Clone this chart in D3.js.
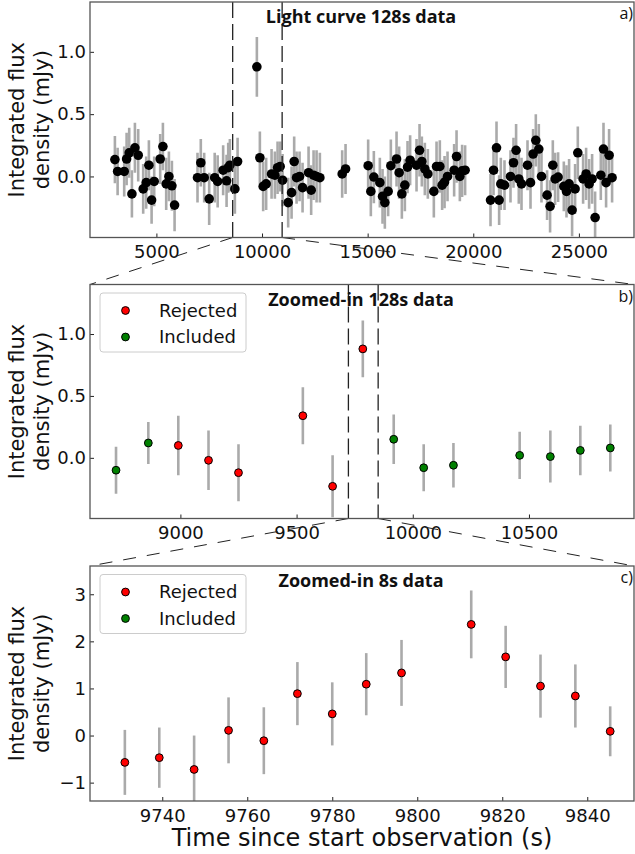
<!DOCTYPE html>
<html><head><meta charset="utf-8">
<script src="https://cdn.jsdelivr.net/npm/d3@7"></script>
<style>body{margin:0;background:#fff}svg{display:block}</style>
</head><body><svg id="chart" width="635" height="854"></svg>
<script>
// ---------- DATA ----------
const aTime = [3036,3164,3476,3590,3713,3841,3983,4139,4375,4517,4645,4773,4896,5180,5308,5464,5592,5734,5861,
 6946,7102,7262,7499,7760,7900,8160,8322,8400,8478,8715,8843,
 9756,9898,10054,10196,10452,10608,10736,10859,10973,11238,11399,11522,11635,11777,11919,12203,12326,12440,12582,12738,13794,13954,
 15024,15151,15293,15577,15705,15814,15970,16098,16368,16491,16619,16761,16888,17011,17314,17456,17565,17707,17849,18133,18261,18417,18526,18640,18781,19094,19208,19364,19472,19614,
 20816,20958,21100,21224,21303,21478,21762,21904,22027,22155,22283,22567,22709,22832,22960,23102,23229,23494,23636,23765,23874,24016,24286,24413,24536,24678,24820,24948,25199,25341,25483,25625,25767,26037,26164,26287,26429,26571];
const aFlux = [0.135,0.04,0.04,0.14,0.19,-0.14,0.23,0.17,-0.10,-0.05,0.09,-0.19,-0.04,0.14,0.24,-0.06,0.00,-0.075,-0.23,
 -0.01,0.11,-0.01,-0.18,-0.01,-0.04,0.05,-0.035,0.07,0.09,-0.10,0.12,
 0.88,0.15,-0.08,-0.06,0.02,0.01,0.07,0.08,-0.03,-0.21,-0.13,0.12,-0.01,0.00,-0.09,0.03,-0.11,0.01,0.00,-0.01,0.02,0.06,
 0.086,-0.12,-0.005,-0.05,-0.16,-0.21,-0.12,0.086,0.14,0.03,-0.14,-0.07,0.075,0.13,0.09,0.21,0.12,0.06,0.02,-0.12,0.08,0.08,-0.07,-0.045,0.0,0.05,0.16,0.0,0.045,0.05,
 -0.19,0.05,0.23,-0.19,-0.06,-0.07,0.0,0.11,0.21,-0.02,-0.06,0.09,-0.05,0.18,0.29,0.22,0.0,-0.15,-0.24,0.09,-0.02,-0.005,-0.08,-0.12,-0.06,-0.27,-0.10,0.19,-0.02,0.02,-0.06,-0.02,-0.33,0.01,0.22,-0.05,0.17,-0.01];
const aErr = [0.19,0.19,0.20,0.21,0.20,0.19,0.20,0.21,0.20,0.21,0.20,0.19,0.20,0.20,0.19,0.21,0.20,0.20,0.21,
 0.20,0.19,0.20,0.21,0.20,0.21,0.20,0.21,0.20,0.21,0.20,0.19,
 0.24,0.21,0.20,0.21,0.20,0.19,0.21,0.20,0.21,0.20,0.21,0.20,0.21,0.20,0.20,0.21,0.20,0.20,0.21,0.20,0.19,0.20,
 0.21,0.20,0.21,0.20,0.22,0.21,0.20,0.21,0.22,0.21,0.20,0.21,0.21,0.20,0.21,0.21,0.20,0.21,0.20,0.21,0.20,0.21,0.20,0.21,0.20,0.21,0.21,0.20,0.21,0.20,
 0.21,0.20,0.21,0.20,0.21,0.20,0.21,0.20,0.21,0.20,0.21,0.20,0.21,0.20,0.21,0.20,0.21,0.20,0.21,0.20,0.21,0.20,0.20,0.21,0.20,0.21,0.20,0.21,0.20,0.21,0.20,0.20,0.21,0.20,0.21,0.20,0.21,0.20];

const bTime   = [8723,8862,8991,9121,9250,9527,9655,9785,9918,10047,10175,10460,10592,10721,10850];
const bFlux   = [-0.10,0.12,0.10,-0.02,-0.12,0.34,-0.23,0.88,0.15,-0.08,-0.06,0.02,0.01,0.06,0.08];
const bErr    = [0.19,0.17,0.24,0.24,0.23,0.23,0.25,0.23,0.20,0.19,0.18,0.19,0.21,0.20,0.19];
const bStatus = ["Included","Included","Rejected","Rejected","Rejected","Rejected","Rejected","Rejected","Included","Included","Included","Included","Included","Included","Included"];

const cTime   = [9731.2,9739.3,9747.5,9755.6,9763.9,9771.8,9780.0,9788.0,9796.3,9812.7,9820.8,9829.0,9837.2,9845.4];
const cFlux   = [-0.57,-0.47,-0.72,0.11,-0.11,0.89,0.46,1.09,1.33,2.36,1.67,1.05,0.84,0.09];
const cErr    = [0.69,0.64,0.72,0.70,0.71,0.67,0.67,0.66,0.70,0.72,0.66,0.67,0.67,0.53];
const cStatus = cTime.map(() => "Rejected");

const aXTicks = [5000,10000,15000,20000,25000];
const bXTicks = [9000,9500,10000,10500];
const cXTicks = [9740,9760,9780,9800,9820,9840];
const abYTicks = [0.0,0.5,1.0];
const cYTicks = [-1,0,1,2,3];

const aXLim = [1857, 27608];
const bXLim = [8611, 10952];   // zoom window of panel b (dashed in a)
const cXLim = [9723, 9851];    // zoom window of panel c (dashed in b)
const abYLim = [-0.49, 1.40];
const cYLim = [-1.39, 3.60];

const legendLabels = ["Rejected","Included"];
const titles = ["Light curve 128s data","Zoomed-in 128s data","Zoomed-in 8s data"];
const panelTags = ["a)","b)","c)"];

// ---------- LAYOUT ----------
const L = 90, R = 634;
const panels = [
  {top:2,   bottom:237.5},
  {top:284.5, bottom:518.5},
  {top:566, bottom:801}
];
const colors = {Rejected:"#ff0000", Included:"#008000"};
const errColor = "#aaaaaa";
const svg = d3.select("#chart");
const tickFont = "DejaVu Sans, sans-serif";

const xs = [
  d3.scaleLinear().domain(aXLim).range([L,R]),
  d3.scaleLinear().domain(bXLim).range([L,R]),
  d3.scaleLinear().domain(cXLim).range([L,R])
];
const ys = [
  d3.scaleLinear().domain(abYLim).range([panels[0].bottom, panels[0].top]),
  d3.scaleLinear().domain(abYLim).range([panels[1].bottom, panels[1].top]),
  d3.scaleLinear().domain(cYLim).range([panels[2].bottom, panels[2].top])
];
const xTicks = [aXTicks,bXTicks,cXTicks];
const yTicks = [abYTicks,abYTicks,cYTicks];
const yFmt = [d3.format(".1f"), d3.format(".1f"), d3.format("d")];

// clip paths
const defs = svg.append("defs");
panels.forEach((p,i) => {
  defs.append("clipPath").attr("id","clip"+i).append("rect")
    .attr("x",L).attr("y",p.top).attr("width",R-L).attr("height",p.bottom-p.top);
});

panels.forEach((p,i) => {
  const x = xs[i], y = ys[i];
  const g = svg.append("g");
  const ax = g.append("g").attr("transform",`translate(0,${p.bottom})`)
    .call(d3.axisBottom(x).tickValues(xTicks[i]).tickFormat(d3.format("d")).tickSizeInner(-4).tickSizeOuter(0).tickPadding(8));
  const ay = g.append("g").attr("transform",`translate(${L},0)`)
    .call(d3.axisLeft(y).tickValues(yTicks[i]).tickFormat(yFmt[i]).tickSizeInner(-4).tickSizeOuter(0).tickPadding(4));
  [ax,ay].forEach(a => {
    a.select(".domain").remove();
    a.selectAll(".tick line").attr("stroke","#222").attr("stroke-width",1);
    a.selectAll(".tick text").attr("font-family",tickFont).attr("font-size",18).attr("fill","#111");
  });
  const cy = (p.top+p.bottom)/2;
  const yl = g.append("text").attr("transform",`translate(24,${cy}) rotate(-90)`)
    .attr("text-anchor","middle").attr("font-family",tickFont).attr("font-size",21).attr("fill","#111");
  yl.append("tspan").attr("x",0).attr("y",0).text("Integrated flux");
  yl.append("tspan").attr("x",0).attr("y",25).text("density (mJy)");
});

// ---------- PANEL A ----------
(function(){
  const x = xs[0], y = ys[0];
  const d = aTime.map((t,k) => ({t, f:aFlux[k], e:aErr[k]}));
  const g = svg.append("g").attr("clip-path","url(#clip0)");
  g.selectAll("line.err").data(d).join("line").attr("class","err")
    .attr("x1",q=>x(q.t)).attr("x2",q=>x(q.t))
    .attr("y1",q=>y(q.f-q.e)).attr("y2",q=>y(q.f+q.e))
    .attr("stroke",errColor).attr("stroke-width",2.6);
  g.selectAll("circle").data(d).join("circle")
    .attr("cx",q=>x(q.t)).attr("cy",q=>y(q.f)).attr("r",4.8).attr("fill","#000");
})();

// ---------- PANELS B, C ----------
function colored(i, T, F, E, S){
  const x = xs[i], y = ys[i];
  const d = T.map((t,k) => ({t, f:F[k], e:E[k], s:S[k]}));
  const g = svg.append("g").attr("clip-path",`url(#clip${i})`);
  g.selectAll("line.err").data(d).join("line").attr("class","err")
    .attr("x1",q=>x(q.t)).attr("x2",q=>x(q.t))
    .attr("y1",q=>y(q.f-q.e)).attr("y2",q=>y(q.f+q.e))
    .attr("stroke",errColor).attr("stroke-width",2.6);
  g.selectAll("circle").data(d).join("circle")
    .attr("cx",q=>x(q.t)).attr("cy",q=>y(q.f)).attr("r",3.9)
    .attr("fill",q=>colors[q.s]).attr("stroke","#000").attr("stroke-width",1);
}
colored(1, bTime, bFlux, bErr, bStatus);
colored(2, cTime, cFlux, cErr, cStatus);

// ---------- zoom markers (dashed) ----------
function zoomLines(i, lim){
  const p = panels[i], n = panels[i+1], x = xs[i];
  lim.forEach(v => {
    svg.append("line").attr("x1",x(v)).attr("x2",x(v)).attr("y1",p.top).attr("y2",p.bottom)
      .attr("stroke","#222").attr("stroke-width",1.3).attr("stroke-dasharray","16,6");
  });
  svg.append("line").attr("x1",x(lim[0])).attr("y1",p.bottom).attr("x2",L).attr("y2",n.top)
    .attr("stroke","#222").attr("stroke-width",1).attr("stroke-dasharray","13,11");
  svg.append("line").attr("x1",x(lim[1])).attr("y1",p.bottom).attr("x2",R).attr("y2",n.top)
    .attr("stroke","#222").attr("stroke-width",1).attr("stroke-dasharray","13,11");
}
zoomLines(0, bXLim);
zoomLines(1, cXLim);

// ---------- frames, titles, tags, legends ----------
panels.forEach((p,i) => {
  svg.append("rect").attr("x",L).attr("y",p.top).attr("width",R-L).attr("height",p.bottom-p.top)
    .attr("fill","none").attr("stroke","#555").attr("stroke-width",1.3);
  svg.append("text").attr("x",361).attr("y",p.top+21).attr("text-anchor","middle")
    .attr("font-family","Open Sans, sans-serif").attr("font-weight","bold").attr("font-size",18)
    .attr("fill","#111").text(titles[i]);
  svg.append("text").attr("x",633).attr("y",p.top+17).attr("text-anchor","end")
    .attr("font-family","Open Sans, sans-serif").attr("font-size",16)
    .attr("fill","#111").text(panelTags[i]);
});

[1,2].forEach(i => {
  const p = panels[i];
  const g = svg.append("g").attr("transform",`translate(100,${p.top+8.5})`);
  g.append("rect").attr("width",146).attr("height",59).attr("rx",3)
    .attr("fill","#fff").attr("fill-opacity",0.85).attr("stroke","#cccccc").attr("stroke-width",1);
  legendLabels.forEach((lab,k) => {
    const yy = 17.5 + k*26.5;
    g.append("circle").attr("cx",25.5).attr("cy",yy).attr("r",3.9)
      .attr("fill",colors[lab]).attr("stroke","#000").attr("stroke-width",1);
    g.append("text").attr("x",59).attr("y",yy+6).attr("font-family",tickFont).attr("font-size",18)
      .attr("fill","#111").text(lab);
  });
});

svg.append("text").attr("x",362).attr("y",846).attr("text-anchor","middle")
  .attr("font-family",tickFont).attr("font-size",24).attr("fill","#111")
  .text("Time since start observation (s)");
</script></body></html>
